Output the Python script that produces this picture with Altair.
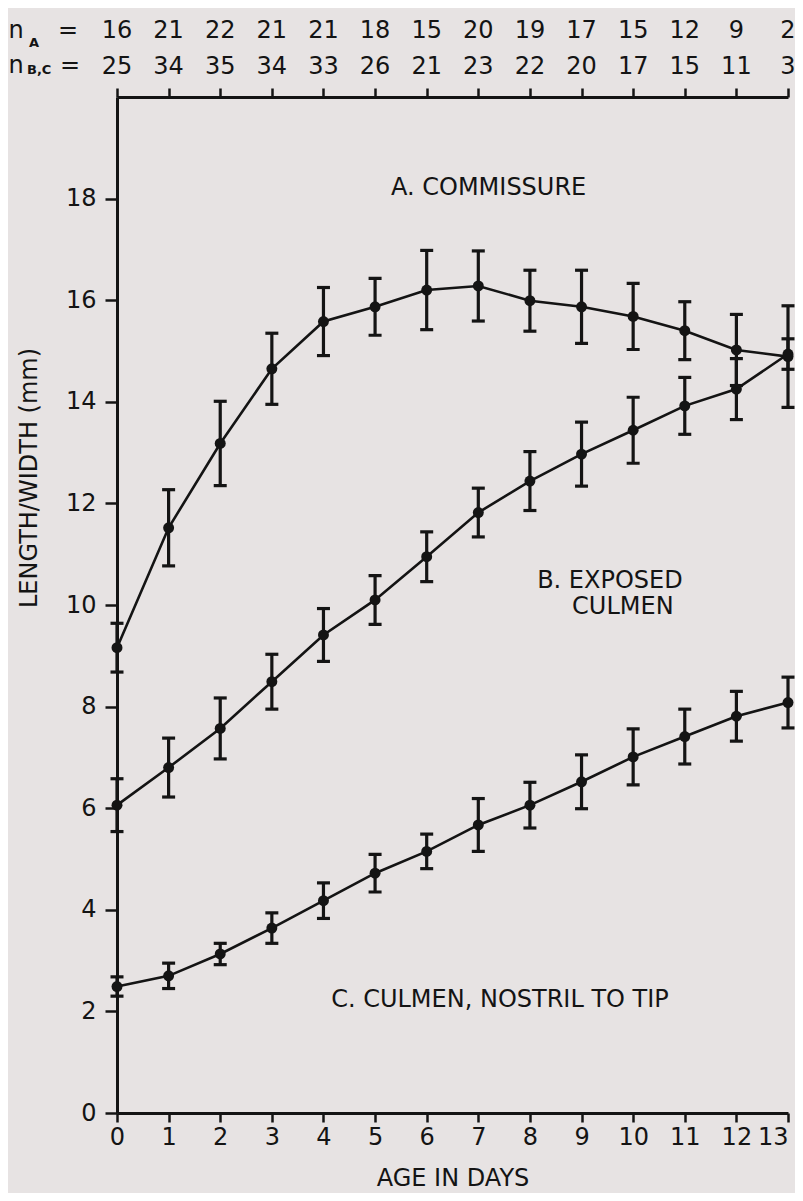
import altair as alt
import pandas as pd

# ---------------- data ----------------
days = list(range(14))

# A. Commissure
comm_mean = [9.16, 11.52, 13.18, 14.65, 15.58, 15.87, 16.20, 16.28, 15.99, 15.87, 15.68, 15.40, 15.02, 14.89]
comm_err = [0.48, 0.75, 0.83, 0.70, 0.67, 0.56, 0.78, 0.69, 0.60, 0.72, 0.65, 0.57, 0.70, 1.00]

# B. Exposed culmen
expo_mean = [6.06, 6.80, 7.57, 8.49, 9.41, 10.10, 10.95, 11.82, 12.44, 12.97, 13.44, 13.92, 14.25, 14.94]
expo_err = [0.52, 0.58, 0.60, 0.54, 0.52, 0.48, 0.49, 0.48, 0.58, 0.63, 0.65, 0.56, 0.60, 0.30]

# C. Culmen, nostril to tip
nost_mean = [2.49, 2.70, 3.13, 3.64, 4.18, 4.72, 5.15, 5.67, 6.06, 6.52, 7.01, 7.41, 7.81, 8.08]
nost_err = [0.19, 0.25, 0.21, 0.30, 0.35, 0.37, 0.34, 0.52, 0.45, 0.53, 0.55, 0.54, 0.49, 0.50]

n_a = [16, 21, 22, 21, 21, 18, 15, 20, 19, 17, 15, 12, 9, 2]
n_bc = [25, 34, 35, 34, 33, 26, 21, 23, 22, 20, 17, 15, 11, 3]

y_ticks = [0, 2, 4, 6, 8, 10, 12, 14, 16, 18]

# ---------------- tables ----------------
rows = []
for name, means, errs in [("A", comm_mean, comm_err), ("B", expo_mean, expo_err), ("C", nost_mean, nost_err)]:
    for d, m, e in zip(days, means, errs):
        rows.append({"series": name, "day": d, "mean": m, "lo": m - e, "hi": m + e})
df = pd.DataFrame(rows)
top_df = pd.DataFrame({"day": days, "nA": n_a, "nBC": n_bc})
one = pd.DataFrame({"k": [0]})

FONT = "DejaVu Sans"
INK = "#141414"
BG = "#e7e3e3"
FS = 24

xs = alt.Scale(domain=[0, 13], nice=False, zero=False)
ys = alt.Scale(domain=[0, 20], nice=False, zero=True)

x_axis = alt.Axis(values=days, tickSize=9, labelPadding=3, title="AGE IN DAYS",
                  titlePadding=17, grid=False, labelFlush=False,
                  labelAlign=alt.ExprRef(expr="datum.value == 13 ? 'right' : 'center'"))
y_axis = alt.Axis(values=y_ticks, tickSize=12, labelPadding=9, title=None, grid=False)

base = alt.Chart(df)

lines = base.mark_line(color=INK, strokeWidth=2.6).encode(
    x=alt.X("day:Q", scale=xs, axis=x_axis),
    y=alt.Y("mean:Q", scale=ys, axis=y_axis),
    detail="series:N",
)
bars = base.mark_rule(color=INK, strokeWidth=3.2).encode(
    x="day:Q", y="lo:Q", y2="hi:Q"
)
caps_lo = base.mark_tick(color=INK, orient="horizontal", size=13, thickness=3.2, opacity=1).encode(
    x="day:Q", y="lo:Q"
)
caps_hi = base.mark_tick(color=INK, orient="horizontal", size=13, thickness=3.2, opacity=1).encode(
    x="day:Q", y="hi:Q"
)
points = base.mark_circle(color=INK, size=120, opacity=1).encode(
    x="day:Q", y="mean:Q"
)


def label(text, x, y, align="center"):
    return alt.Chart(one).mark_text(
        text=text, font=FONT, fontSize=FS, color=INK, align=align, baseline="middle"
    ).encode(x=alt.datum(x), y=alt.datum(y))


ann_a = label("A. COMMISSURE", 7.2, 18.2)
ann_b1 = label("B. EXPOSED", 9.55, 10.47)
ann_b2 = label("CULMEN", 9.8, 9.96)
ann_c = label("C. CULMEN, NOSTRIL TO TIP", 7.42, 2.22)

y_title = alt.Chart(one).mark_text(
    text="LENGTH/WIDTH (mm)", font=FONT, fontSize=FS, color=INK, angle=270,
    align="center", baseline="middle"
).encode(x=alt.value(-87), y=alt.datum(12.5))

main = alt.layer(lines, bars, caps_lo, caps_hi, points, ann_a, ann_b1, ann_b2, ann_c, y_title)

# ---------------- top axis with sample sizes ----------------
top_axis = alt.Axis(orient="top", values=days, labels=False, tickSize=9, title=None,
                    grid=False, domainWidth=3)
top_a = alt.Chart(top_df).mark_text(font=FONT, fontSize=FS, color=INK, baseline="alphabetic").encode(
    x=alt.X("day:Q", scale=xs, axis=top_axis), y=alt.value(-59), text="nA:Q"
)
top_bc = alt.Chart(top_df).mark_text(font=FONT, fontSize=FS, color=INK, baseline="alphabetic").encode(
    x=alt.X("day:Q", scale=xs), y=alt.value(-23), text="nBC:Q"
)


def pix(text, x, y, size=FS, weight="normal", align="center"):
    return alt.Chart(one).mark_text(
        text=text, font=FONT, fontSize=size, fontWeight=weight, color=INK,
        align=align, baseline="alphabetic"
    ).encode(x=alt.value(x), y=alt.value(y))


row_labels = [
    pix("n", -101, -59),
    pix("A", -83, -50, size=13, weight="bold"),
    pix("=", -49, -59),
    pix("n", -101, -24),
    pix("B,C", -90, -23, size=13, weight="bold", align="left"),
    pix("=", -47, -24),
]

top = alt.layer(top_a, top_bc, *row_labels)

chart = (
    alt.layer(main, top)
    .resolve_scale(x="independent")
    .properties(
        width=671,
        height=1016,
        autosize=alt.AutoSizeParams(type="none"),
        padding={"left": 109, "top": 89, "right": 7, "bottom": 80},
        background=BG,
    )
    .configure_view(stroke=None)
    .configure_axis(
        domainColor=INK, domainWidth=3, tickColor=INK, tickWidth=2.5,
        labelFont=FONT, labelFontSize=FS, labelColor=INK,
        titleFont=FONT, titleFontSize=FS, titleFontWeight="normal", titleColor=INK,
    )
)

chart.save("out.html", embed_options={"renderer": "svg", "actions": False})
